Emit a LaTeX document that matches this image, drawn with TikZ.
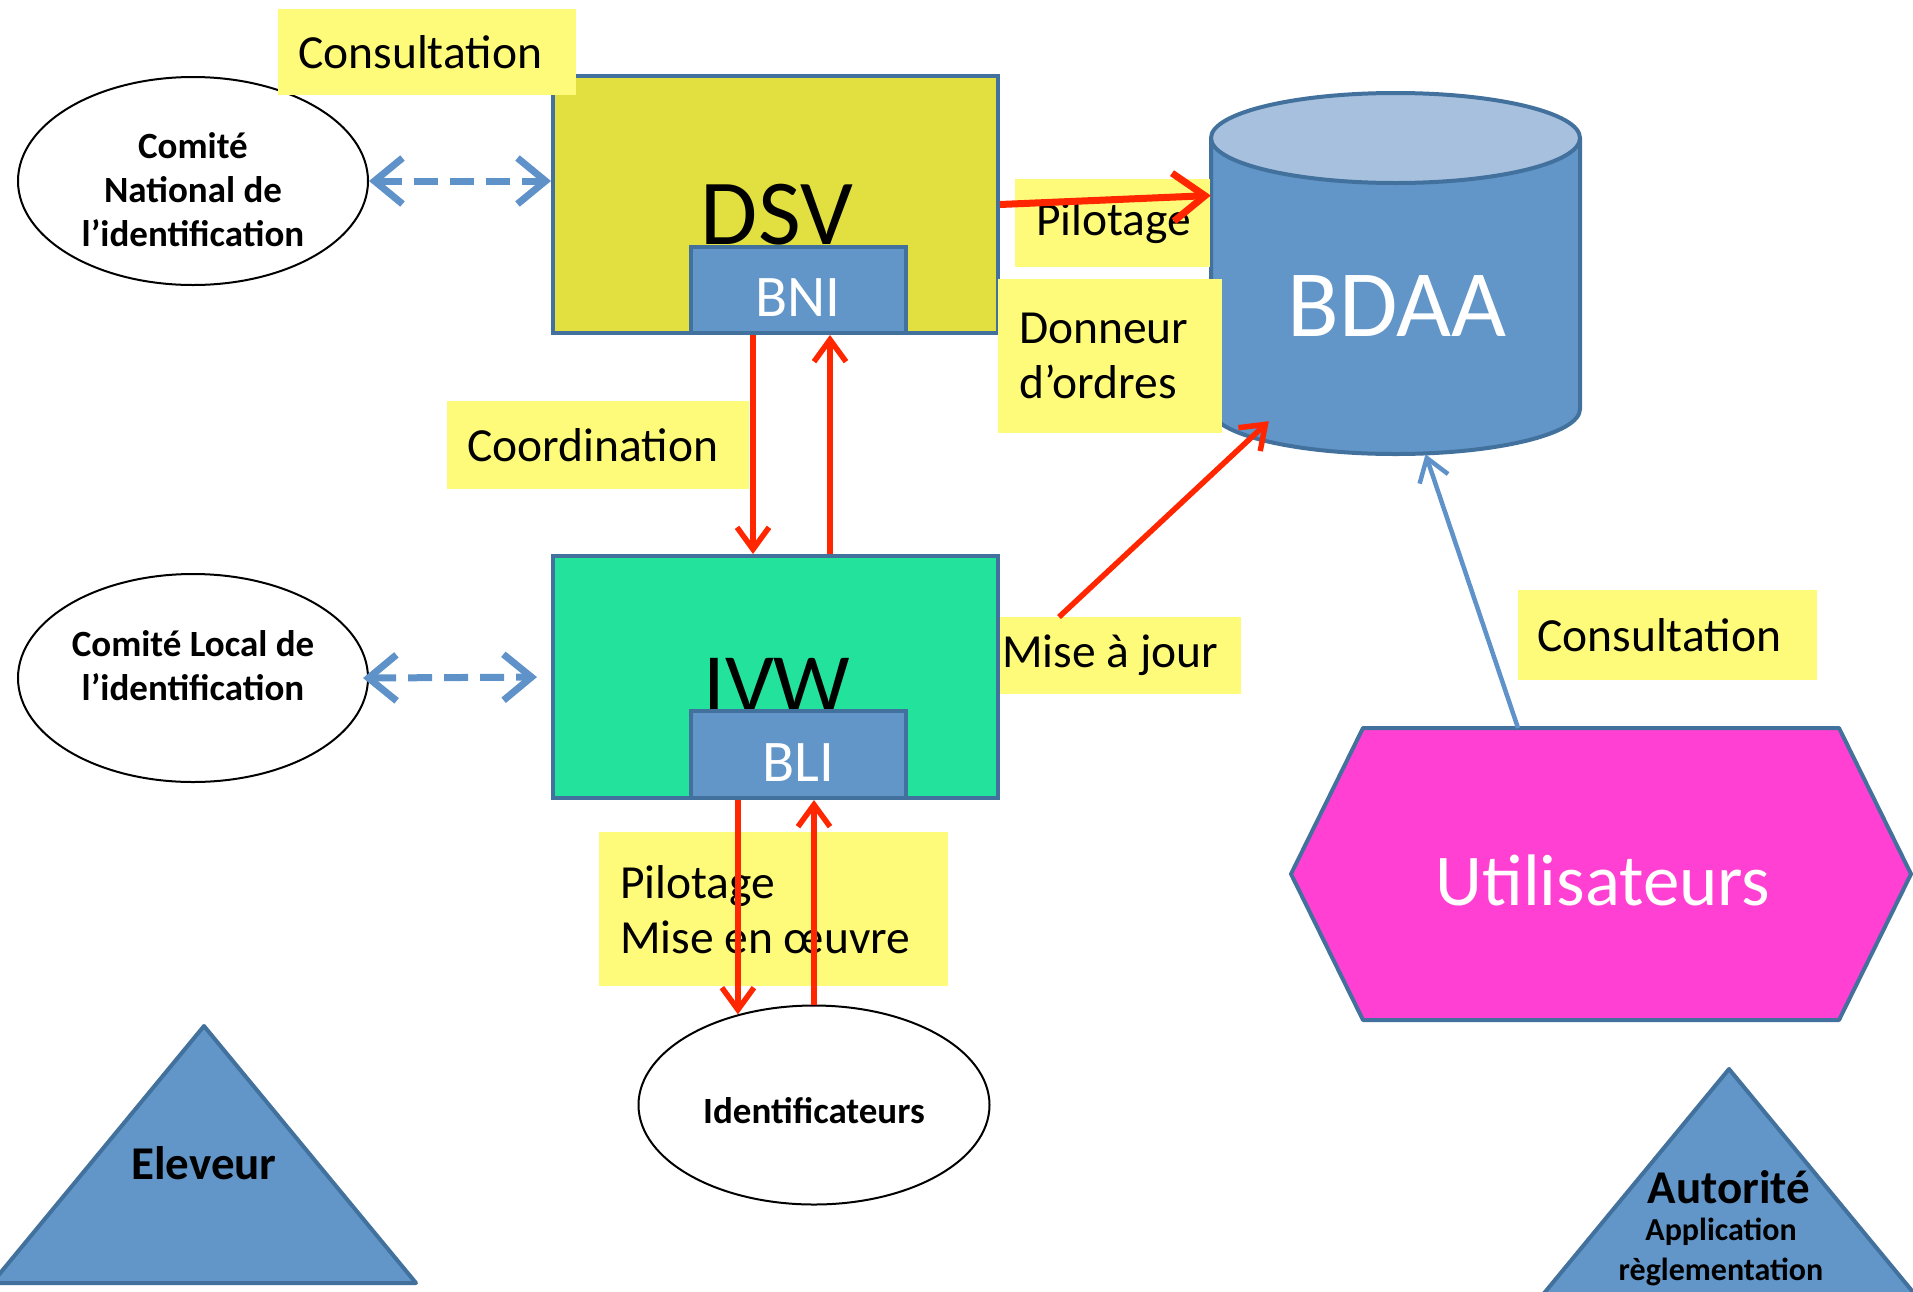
\documentclass[tikz,border=0pt]{standalone}
\usepackage{fontspec}
\setmainfont{Carlito}
\usetikzlibrary{shapes,arrows.meta,positioning,calc}

\definecolor{boxline}{RGB}{65,113,156}
\definecolor{dsvfill}{RGB}{226,224,64}
\definecolor{ivwfill}{RGB}{35,226,155}
\definecolor{bnifill}{RGB}{98,149,200}
\definecolor{topfill}{RGB}{167,192,222}
\definecolor{notefill}{RGB}{255,251,122}
\definecolor{redline}{RGB}{255,38,0}
\definecolor{dashblue}{RGB}{96,146,202}
\definecolor{userfill}{RGB}{255,64,210}

\tikzset{
  bigbox/.style={draw=boxline, line width=4pt, minimum width=445pt, inner sep=0pt},
  smallbox/.style={draw=boxline, fill=bnifill, line width=4pt, minimum width=215pt,
    minimum height=86pt, inner sep=0pt, text=white,
    font=\fontsize{59}{60}\selectfont, text height=53pt, text depth=0pt},
  note/.style={fill=notefill, anchor=north west, align=flush left, inner ysep=0pt,
    font=\fontsize{47.5}{55}\selectfont},
  comite/.style={ellipse, draw=black, line width=2pt, minimum width=350pt,
    minimum height=208pt, inner sep=0pt},
  comitetext/.style={align=center, inner sep=0pt, font=\bfseries\fontsize{37}{44}\selectfont},
  dashlink/.style={draw=dashblue, line width=7pt, dash pattern=on 24pt off 12pt,
    {Straight Barb[length=28pt,width=46pt]}-{Straight Barb[length=28pt,width=46pt]}},
  redlink/.style={draw=redline, line width=5.5pt, -{Straight Barb[length=22pt,width=32pt]}},
  bluelink/.style={draw=dashblue, line width=4.5pt, -{Straight Barb[length=22pt,width=30pt]}},
  shapefill/.style={fill=bnifill, draw=boxline, line width=4pt, line join=round}
}

\begin{document}
\begin{tikzpicture}[x=1pt, y=-1pt]
        \useasboundingbox (0,0) rectangle (1913,1291);
        \clip (0,0) rectangle (1913,1291);

        \node[bigbox, fill=dsvfill, minimum height=257pt] (dsv) at (775.5,204.5) {};
        \node[anchor=base, font=\fontsize{93}{93}\selectfont] (dsvname) at (777,244) {DSV};
        \node[smallbox, anchor=south] (bni) at ($(dsv.south)+(22.5,0)$) {BNI};

        \node[bigbox, fill=ivwfill, minimum height=242pt] (ivw) at (775.5,677) {};
        \node[anchor=base, font=\fontsize{86}{86}\selectfont] (ivwname) at (777,713) {IVW};
        \node[smallbox, anchor=south, minimum height=87pt] (bli) at ($(ivw.south)+(22.5,0)$) {BLI};

        \node[comite] (natl) at (193,181) {};
        \node[comitetext] (natltext) at ($(natl)+(0,9)$) {Comité\\National de\\l’identification};
        \node[comite] (local) at (193,678) {};
        \node[comitetext] (localtext) at ($(local)+(0,-12)$) {Comité Local de\\l’identification};
        \node[comite, minimum width=351pt, minimum height=199pt] (ident) at (814,1105) {};
        \node[comitetext] (identtext) at ($(ident)+(0,6)$) {Identificateurs};

        % base de donnees
        \node[minimum width=369pt, minimum height=361pt, inner sep=0pt] (bdaa) at (1395.5,273.5) {};
        \fill[bnifill] (1211,138) -- (1211,409) arc[start angle=180, end angle=360, x radius=184.5pt, y radius=45pt] -- (1580,138) -- cycle;
        \draw[boxline, line width=4pt] (1211,138) -- (1211,409) arc[start angle=180, end angle=360, x radius=184.5pt, y radius=45pt] -- (1580,138);
        \filldraw[fill=topfill, draw=boxline, line width=4pt] (1395.5,138) ellipse [x radius=184.5pt, y radius=45pt];
        \node[anchor=base, text=white, font=\fontsize{95}{95}\selectfont] (bdaaname) at (1397,336) {BDAA};

        \filldraw[shapefill, fill=userfill] (1291,874) -- (1363,728) -- (1839,728) -- (1911,874) -- (1839,1020) -- (1363,1020) -- cycle;
        \node[anchor=base, text=white, font=\fontsize{73}{73}\selectfont] (users) at (1603,905) {Utilisateurs};
        \coordinate (usertop) at (1518,728);

        \filldraw[shapefill] (204,1026) -- (416,1283) -- (-8,1283) -- cycle;
        \node[font=\bfseries\fontsize{47}{47}\selectfont] (eleveur) at (204,1163) {Eleveur};

        \filldraw[shapefill] (1729,1069) -- (1941,1326) -- (1517,1326) -- cycle;
        \node[font=\bfseries\fontsize{47}{47}\selectfont] (autorite) at (1729,1187) {Autorité};
        \node[font=\bfseries\fontsize{32}{40}\selectfont, align=center] (appli) at (1721,1252) {Application\\règlementation};

        \node[note, inner xsep=20pt, text width=258pt, minimum height=86pt] (consulttop) at (278,9) {Consultation};
        \node[note, inner xsep=21pt, text width=153pt, minimum height=88pt] (pilotdsv) at (1015,179) {Pilotage};
        \node[note, inner xsep=21pt, text width=182pt, minimum height=154pt] (donneur) at (998,279) {Donneur\\d’ordres};
        \node[note, inner xsep=20pt, text width=262pt, minimum height=88pt] (coord) at (447,401) {Coordination};
        \node[note, inner xsep=2pt, text width=237pt, minimum height=77pt] (majour) at (1000,617) {Mise à jour};
        \node[note, inner xsep=19pt, text width=261pt, minimum height=90pt] (consultusr) at (1518,590) {Consultation};
        \node[note, inner xsep=21pt, text width=307pt, minimum height=154pt] (pilotbli) at (599,832) {Pilotage\\Mise en œuvre};

        \draw[dashlink] (natl.east) -- (natl.east -| dsv.west);
        \draw[dashlink, shorten <=-6pt, shorten >=14pt] (local.east) -- (ivw.west);

        \draw[redlink, line width=7pt, -{Straight Barb[length=32pt,width=48pt]}] (dsv.east) -- ($(bdaa.west)+(0,-78)$);

        \coordinate (cdown) at ($(bni.south)+(-45,0)$);
        \coordinate (cup) at ($(bni.south)+(32,0)$);
        \draw[redlink] (cdown) -- (cdown |- ivw.north);
        \draw[redlink] (cup |- ivw.north) -- (cup);

        \draw[redlink] ($(majour.north west)+(59,0)$) -- ($(bdaa.south west)+(58,-33)$);
        \draw[bluelink] (usertop) -- ($(bdaa.south)+(30,0)$);

        \draw[redlink] (bli.south -| ident.130) -- (ident.130);
        \draw[redlink] (ident.north) -- (ident.north |- bli.south);

      \end{tikzpicture}
\end{document}
